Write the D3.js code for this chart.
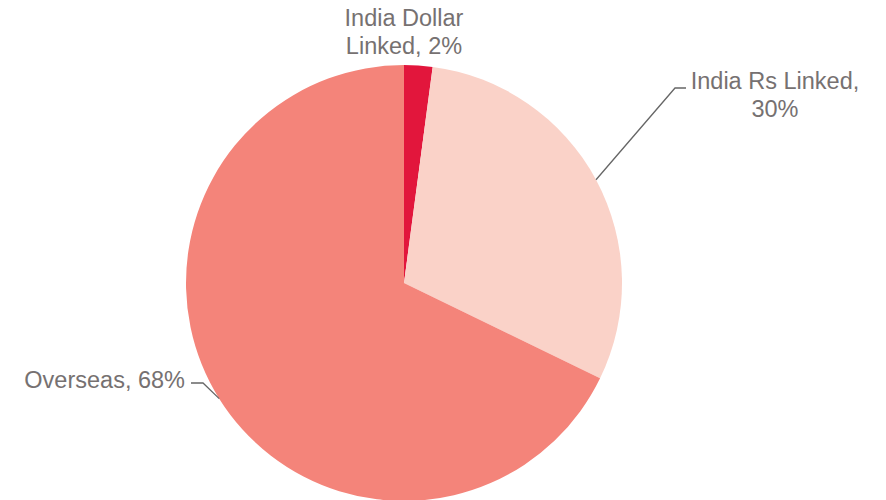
<!DOCTYPE html>
<html>
<head>
<meta charset="utf-8">
<script src="https://cdn.jsdelivr.net/npm/d3@7"></script>
<style>
  body { margin: 0; background: #fff; }
  text { font-family: Arial, "Liberation Sans", sans-serif; }
</style>
</head>
<body>
<svg id="chart"></svg>
<script>
var categories = ["India Dollar Linked", "India Rs Linked", "Overseas"];
var shares = [2.1, 30.1, 67.8];
var colors = ["#E2163C", "#FAD2C8", "#F4847A"];

var width = 886, height = 500,
	cx = 404, cy = 283, radius = 218;

var svg = d3.select("#chart")
	.attr("width", width)
	.attr("height", height);

var g = svg.append("g")
	.attr("transform", "translate(" + cx + "," + cy + ")");

var pie = d3.pie().sort(null).value(function(d) { return d; });
var arc = d3.arc().innerRadius(0).outerRadius(radius);

var arcs = pie(shares);

g.selectAll("path.slice")
	.data(arcs)
	.enter().append("path")
	.attr("class", "slice")
	.attr("d", arc)
	.style("fill", function(d, i) { return colors[i]; });

function pt(angle, r) {
	return [Math.sin(angle) * r, -Math.cos(angle) * r];
}

// label layout per slice: text lines, anchor and position relative to centre
var labelCfg = [
	{ lines: ["India Dollar", "Linked, " + Math.round(shares[0]) + "%"], anchor: "middle", x: 0, y: -257, leader: null },
	{ lines: ["India Rs Linked,", Math.round(shares[1]) + "%"], anchor: "middle", x: 371, y: -194,
		leader: { elbow: [271, -195], end: [282, -195] } },
	{ lines: ["Overseas, " + Math.round(shares[2]) + "%"], anchor: "end", x: -219, y: 105,
		leader: { elbow: [-201, 100], end: [-213, 100] } }
];

var lineH = 28;

arcs.forEach(function(d, i) {
	var c = labelCfg[i];
	if (c.leader) {
		var mid = (d.startAngle + d.endAngle) / 2;
		var p0 = pt(mid, radius);
		g.append("polyline")
			.attr("points", [p0, c.leader.elbow, c.leader.end].map(function(p) { return p.join(","); }).join(" "))
			.attr("fill", "none")
			.attr("stroke", "#666")
			.attr("stroke-width", 1.3);
	}
	var t = g.append("text")
		.attr("text-anchor", c.anchor)
		.attr("font-size", "23.5px")
		.attr("fill", "#767171");
	c.lines.forEach(function(l, j) {
		t.append("tspan")
			.attr("x", c.x)
			.attr("y", c.y + j * lineH)
			.text(l);
	});
});
</script>
</body>
</html>
